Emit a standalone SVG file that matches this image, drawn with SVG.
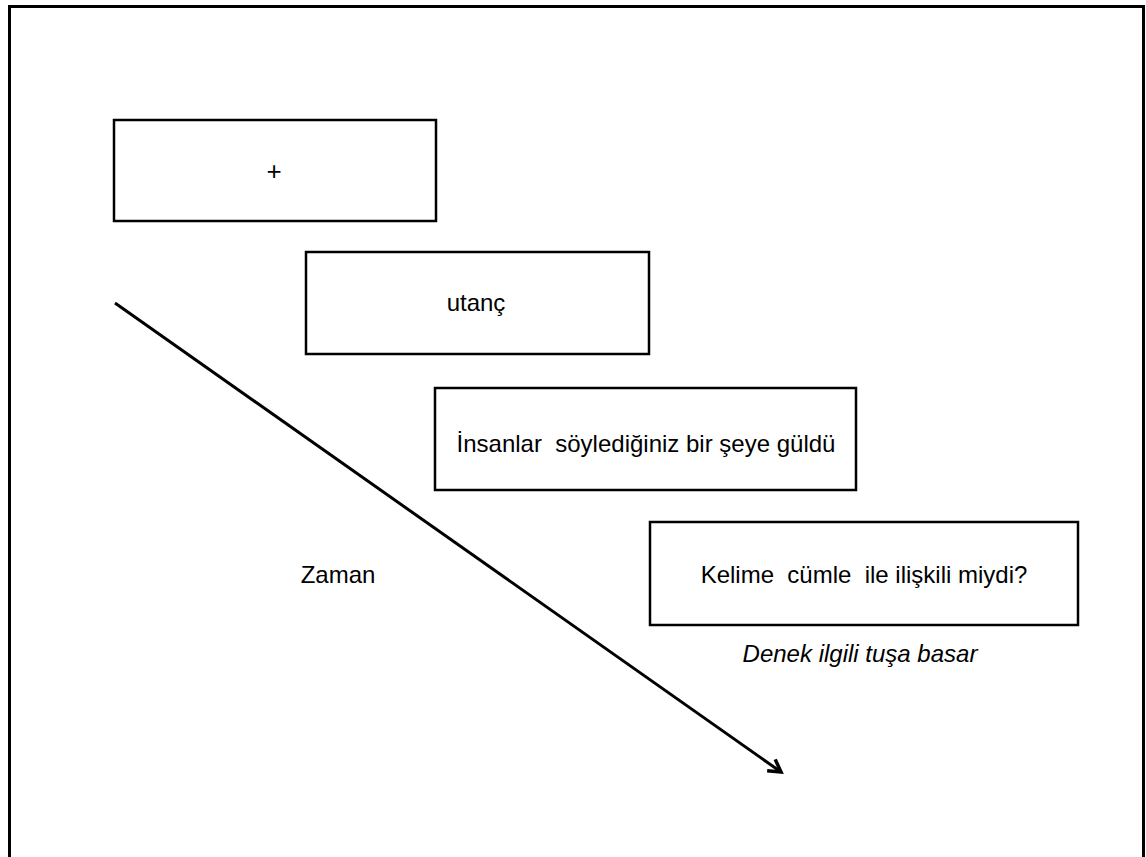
<svg xmlns="http://www.w3.org/2000/svg" width="1146" height="857" viewBox="0 0 1146 857">
<style>
.box{fill:#fff;stroke:#000;stroke-width:2.5}
.t{font-family:"Liberation Sans",Arial,sans-serif;font-size:24px;fill:#000;text-anchor:middle;white-space:pre}
.i{font-style:italic}
</style>
<defs>
<marker id="ah" markerWidth="18" markerHeight="18" refX="14" refY="9" orient="auto" markerUnits="userSpaceOnUse" viewBox="0 0 18 18">
<path d="M2,2 L14,9 L2,16" fill="none" stroke="#000" stroke-width="3.5"/>
</marker>
</defs>
<rect width="1146" height="857" fill="#fff"/>
<rect x="9.5" y="6.5" width="1134" height="900" fill="none" stroke="#000" stroke-width="3"/>
<g id="connectors">
<line x1="115" y1="303" x2="781" y2="772" stroke="#000" stroke-width="3" marker-end="url(#ah)"/>
</g>
<g id="n1"><rect class="box" x="114" y="120" width="322" height="101"/><text class="t" x="274" y="180" style="font-size:26px">+</text></g>
<g id="n2"><rect class="box" x="306" y="252" width="343" height="102"/><text class="t" x="476" y="311">utanç</text></g>
<g id="n3"><rect class="box" x="435" y="388" width="421" height="102"/><text class="t" x="646" y="452" xml:space="preserve">İnsanlar  söylediğiniz bir şeye güldü</text></g>
<g id="n4"><rect class="box" x="650" y="522" width="428" height="103"/><text class="t" x="864" y="583" xml:space="preserve">Kelime  cümle  ile ilişkili miydi?</text></g>
<g id="l1"><text class="t i" x="860" y="662">Denek ilgili tuşa basar</text></g>
<g id="l2"><text class="t" x="338" y="583">Zaman</text></g>
</svg>
